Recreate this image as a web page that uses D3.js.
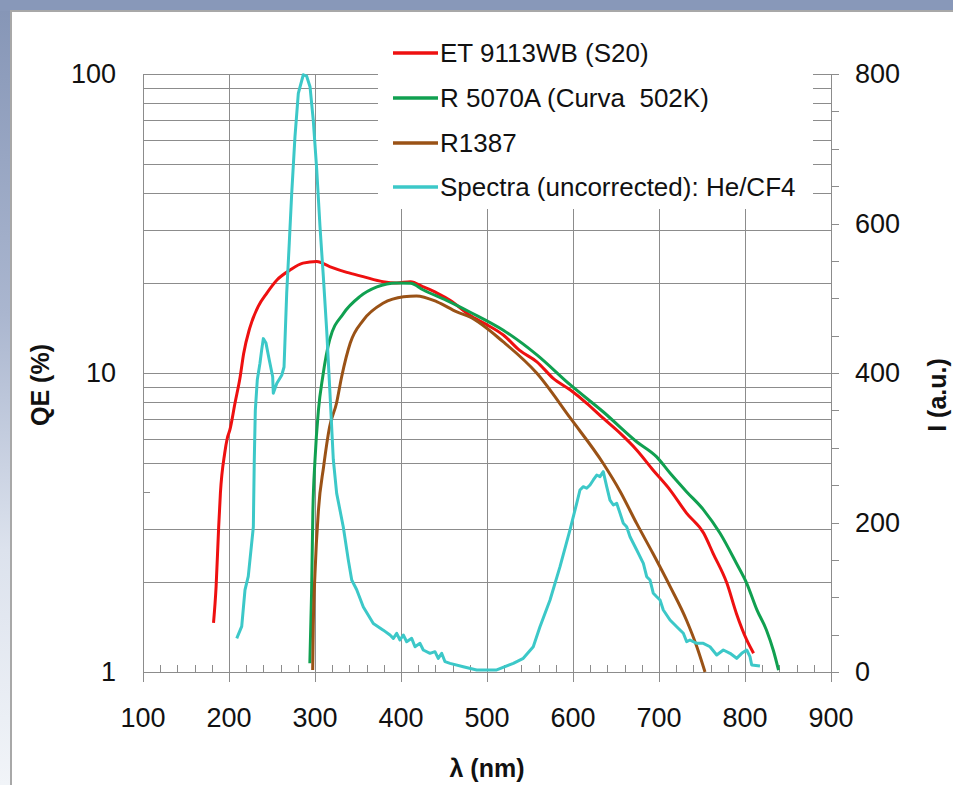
<!DOCTYPE html>
<html><head><meta charset="utf-8">
<script src="https://cdn.jsdelivr.net/npm/d3@7"></script>
<style>body{margin:0;background:#fff}svg{display:block}text{font-family:"Liberation Sans",Arial,sans-serif}</style>
</head><body><svg id="c" width="953" height="785"></svg>
<script>
// ---------- data ----------
const xTicks = [100, 200, 300, 400, 500, 600, 700, 800, 900];
const yLeftTicks = [1, 10, 100];
const yRightTicks = [0, 200, 400, 600, 800];
const seriesNames = ["ET 9113WB (S20)", "R 5070A (Curva  502K)", "R1387", "Spectra (uncorrected): He/CF4"];

const etLambda = [182,185,188,190,195,198,201,207,213,217,224,234,244,256,271,286,302,317,337,356,379,395,411,426,442,457,480,500,519,538,558,577,597,616,635,655,674,693,713,732,752,763,779,790,802,810];
const etQE = [1.46,1.93,3.06,3.96,5.39,6.05,6.45,7.94,9.72,11.6,14.1,16.7,18.5,20.5,22.1,23.3,23.6,22.7,21.7,21.0,20.2,20.0,20.2,19.4,18.5,17.5,15.6,14.5,13.4,11.9,10.9,9.6,8.77,7.92,7.06,6.28,5.53,4.74,4.06,3.40,2.91,2.49,1.98,1.57,1.28,1.155];

const r5070Lambda = [294,296,297.5,300,304,309,317,333,352,372,395,411,426,453,480,519,558,597,635,674,697,713,732,752,771,790,802,814,825,833,839];
const r5070QE = [1.07,1.83,3.40,5.12,7.52,9.72,12.9,15.8,18.0,19.4,20.0,19.95,18.95,17.5,16.0,13.9,11.5,9.12,7.42,5.89,5.25,4.62,4.01,3.48,2.91,2.31,1.98,1.61,1.38,1.18,1.015];

const r1387Lambda = [297.3,298,300,304,310,317,325,331,341,356,379,403,418,442,465,480,519,558,597,635,655,674,693,713,732,744,753.5];
const r1387QE = [1.015,1.42,2.14,3.48,4.86,6.61,7.92,9.72,12.6,15.0,17.1,18.0,18.1,17.3,16.0,15.4,12.7,9.98,7.06,4.99,4.01,3.14,2.49,1.93,1.49,1.215,1.0];

const specLambda = [209,214.8,218.6,222.4,228.3,229.4,230.6,232.9,236,238,239.9,243,246.9,250.8,251.5,255.5,261.3,264,267.1,270.1,272.9,276.7,280.6,286.4,290.3,294.2,298,302,305.8,309.7,313.6,317.4,321.3,325.2,332.9,338.7,342.7,348.5,356.2,367.8,379.4,387.2,391.1,395,398.8,402.7,406.6,412.4,416.3,422.1,425.9,433.7,439.5,443.3,447.3,451.2,457,472.4,488,511.3,530.6,542.2,553.8,561.6,573.3,584.9,596.5,604.3,608.1,612,615.9,619.8,623.6,627.6,631.4,635.2,639.2,643,646.9,650.8,654.7,658.5,662.4,666.3,674.1,681.8,685.7,689.5,693.4,697.3,701.2,705,712.8,720.6,728.3,732.2,736,743.8,751.5,759.3,767.1,774.8,782.6,790.3,796.2,802,805.8,807.8,817.4];
const specI = [45,61,110,128,194,284,350,391,413,431,446,440,417,395,373,386,397,408,507,574,640,716,774,799,797,783,738,672,596,529,457,373,284,239,194,150,123,110,87,65,56,49.5,45,51.7,42.8,49.5,40.5,45,33.8,38.4,29.4,25,27.2,18.3,25,13.8,11.6,7.1,2.7,2.7,11.6,18.3,33.8,60.6,96.3,140.9,190,225.7,243.5,247.9,245.8,250.2,256.9,263.5,261.3,268,247.9,230,223.4,225.7,212.3,199,194.4,181,163.2,145.4,127.5,123.1,105.3,100.7,96.3,82.9,69.6,60.6,51.8,40.5,42.8,38.4,38.4,33.8,22.7,29.4,25,18.3,25,29.4,20.5,9.4,8];

const colors = ["#ee1010", "#10a050", "#9a5216", "#3cc8c8"];

// ---------- layout ----------
const svg = d3.select("#c");
const W = 953, H = 785;
const x = d3.scaleLinear().domain([100, 900]).range([143, 831]);
const yL = d3.scaleLog().domain([1, 100]).range([672, 74]);
const yR = d3.scaleLinear().domain([0, 800]).range([672, 74]);

// background frame
const defs = svg.append("defs");
const g1 = defs.append("linearGradient").attr("id", "lg").attr("x1", 0).attr("y1", 0).attr("x2", 0).attr("y2", 1);
[[0, "#8595b6"], [0.4, "#aab6cf"], [0.7, "#dce2ed"], [1, "#f1f4f8"]].forEach(s => g1.append("stop").attr("offset", s[0]).attr("stop-color", s[1]));
svg.append("rect").attr("width", W).attr("height", H).attr("fill", "url(#lg)");
svg.append("rect").attr("width", W).attr("height", 11).attr("fill", "#8898b9");
svg.append("rect").attr("x", 11).attr("y", 11).attr("width", W).attr("height", H).attr("fill", "#ffffff")
  .attr("stroke", "#a8a8a8").attr("stroke-width", 2);

const gridColor = "#8c8c8c";
const grid = svg.append("g").attr("stroke", gridColor).attr("stroke-width", 1).attr("shape-rendering", "crispEdges");

// horizontal log gridlines
const minorVals = [];
[1, 10].forEach(dec => [2,3,4,5,6,7,8,9].forEach(m => minorVals.push(dec * m)));
minorVals.push(10, 100);
minorVals.forEach(v => {
  const short = (v === 4);
  grid.append("line").attr("x1", x(100)).attr("x2", short ? x(100) + 7 : x(900))
    .attr("y1", Math.round(yL(v)) + 0.5).attr("y2", Math.round(yL(v)) + 0.5);
});
// vertical gridlines (extending as ticks below axis)
xTicks.forEach(v => {
  grid.append("line").attr("x1", Math.round(x(v)) + 0.5).attr("x2", Math.round(x(v)) + 0.5)
    .attr("y1", yL(100)).attr("y2", yL(1) + 10);
});
// bottom axis line
grid.append("line").attr("x1", x(100)).attr("x2", x(900)).attr("y1", 672.5).attr("y2", 672.5);
// bottom minor ticks (every 20 nm)
d3.range(120, 900, 20).filter(v => v % 100 !== 0).forEach(v => {
  grid.append("line").attr("x1", Math.round(x(v)) + 0.5).attr("x2", Math.round(x(v)) + 0.5)
    .attr("y1", 672).attr("y2", 665);
});
// right axis ticks every 50
d3.range(0, 801, 50).forEach(v => {
  grid.append("line").attr("x1", x(900)).attr("x2", x(900) + 8)
    .attr("y1", Math.round(yR(v)) + 0.5).attr("y2", Math.round(yR(v)) + 0.5);
});

// legend box (white, hides grid)
svg.append("rect").attr("x", 378).attr("y", 20).attr("width", 435).attr("height", 189).attr("fill", "#fff");

// tick labels
const lab = svg.append("g").attr("font-size", 27).attr("fill", "#111");
yLeftTicks.forEach(v => lab.append("text").attr("x", 116).attr("y", yL(v)).attr("text-anchor", "end")
  .attr("dominant-baseline", "central").text(d3.format("d")(v)));
yRightTicks.forEach(v => lab.append("text").attr("x", 855).attr("y", yR(v)).attr("text-anchor", "start")
  .attr("dominant-baseline", "central").text(v));
xTicks.forEach(v => lab.append("text").attr("x", x(v)).attr("y", 718).attr("text-anchor", "middle")
  .attr("dominant-baseline", "central").text(v));

// axis titles
svg.append("text").attr("transform", "translate(40,385) rotate(-90)").attr("text-anchor", "middle")
  .attr("dominant-baseline", "central").attr("font-size", 25).attr("font-weight", "bold").attr("fill", "#111").text("QE (%)");
svg.append("text").attr("transform", "translate(937,395) rotate(-90)").attr("text-anchor", "middle")
  .attr("dominant-baseline", "central").attr("font-size", 25).attr("font-weight", "bold").attr("fill", "#111").text("I (a.u.)");
svg.append("text").attr("x", 487).attr("y", 768).attr("text-anchor", "middle")
  .attr("dominant-baseline", "central").attr("font-size", 25).attr("font-weight", "bold").attr("fill", "#111").text("λ (nm)");

// curves
const qeLine = d3.line().x(d => x(d[0])).y(d => yL(d[1])).curve(d3.curveMonotoneX);
const iLine = d3.line().x(d => x(d[0])).y(d => yR(d[1])).curve(d3.curveLinear);
const qeSeries = [[etLambda, etQE], [r5070Lambda, r5070QE], [r1387Lambda, r1387QE]];
qeSeries.forEach((s, i) => {
  svg.append("path").datum(s[0].map((l, k) => [l, s[1][k]])).attr("d", qeLine)
    .attr("fill", "none").attr("stroke", colors[i]).attr("stroke-width", 3).attr("stroke-linejoin", "round");
});
svg.append("path").datum(specLambda.map((l, k) => [l, specI[k]])).attr("d", iLine)
  .attr("fill", "none").attr("stroke", colors[3]).attr("stroke-width", 3).attr("stroke-linejoin", "round");

// legend
const legY = [53, 98, 143, 187];
seriesNames.forEach((n, i) => {
  svg.append("line").attr("x1", 393).attr("x2", 438).attr("y1", legY[i]).attr("y2", legY[i])
    .attr("stroke", colors[i]).attr("stroke-width", 3.5);
  svg.append("text").attr("x", 440).attr("y", legY[i]).attr("dominant-baseline", "central")
    .attr("font-size", 26).attr("fill", "#111").style("white-space", "pre").text(n);
});
</script>
</body></html>
